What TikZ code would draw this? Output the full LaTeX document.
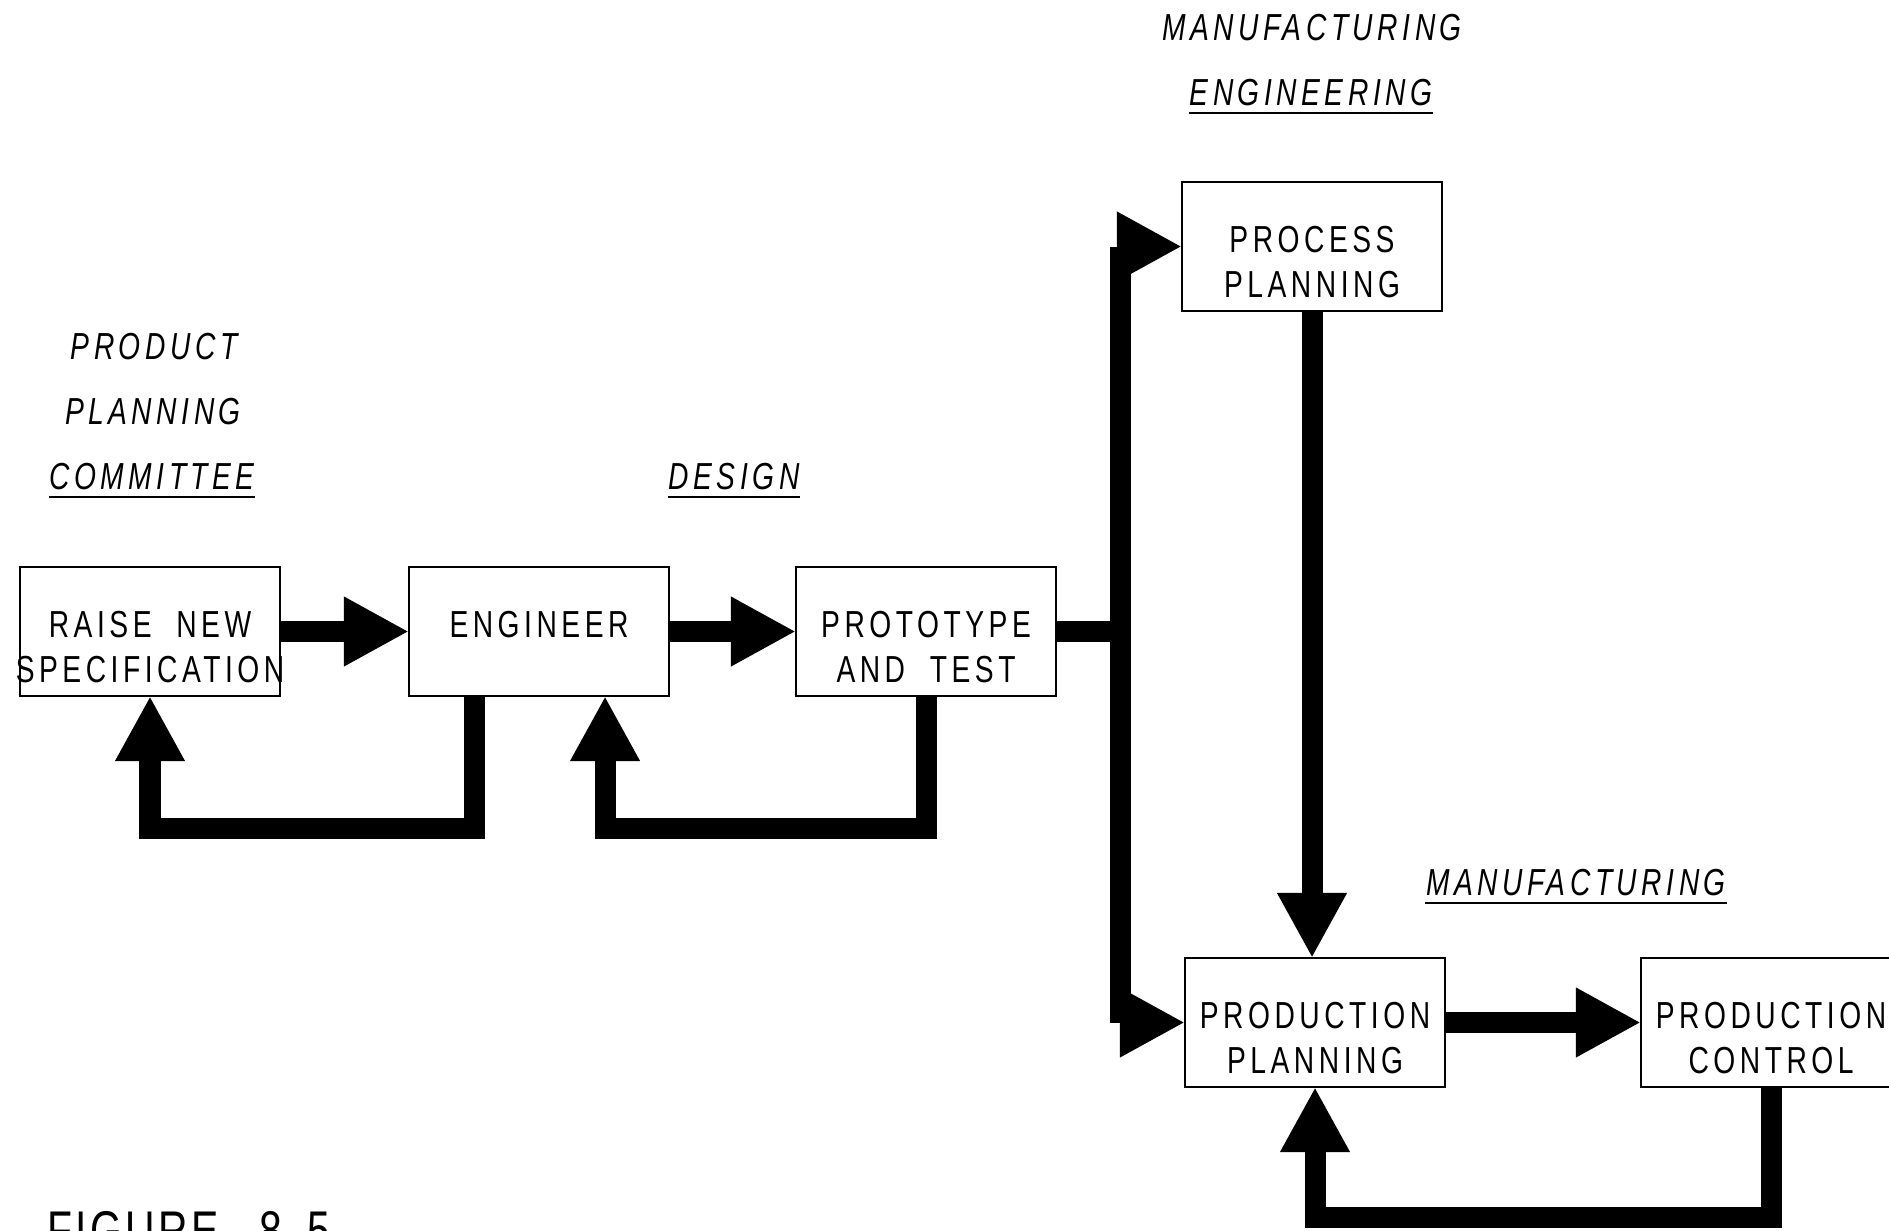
\documentclass[tikz,border=0pt]{standalone}
\usepackage{fontspec}
% narrow, widely spaced lettering in the style of a drafting template
\setmainfont{Liberation Sans}[FakeStretch=0.75, LetterSpace=12, WordSpace=2]
\newfontfamily\captionlettering{Liberation Sans}[FakeStretch=0.75, LetterSpace=6, WordSpace=2.8]
\usetikzlibrary{arrows.meta,calc}

\tikzset{
  stage/.style={draw, line width=0.45pt, minimum width=2.6cm, minimum height=1.29cm,
                inner sep=0pt, outer sep=0pt},
  boxtext/.style={inner sep=0pt, anchor=base, font=\fontsize{10.7}{12}\selectfont},
  dept/.style={inner sep=0pt, anchor=base, font=\fontsize{10.7}{12}\selectfont\itshape},
  uline/.style={line width=0.8pt},
  wire/.style={line width=2.1mm, line join=miter},
  flow/.style={wire, -{Triangle[length=6.5mm, width=6.5mm]}},
}

\begin{document}
\begin{tikzpicture}[x=0.01cm, y=-0.01cm]
\fill[white] (0,0) rectangle (1889,1230);
\useasboundingbox (0,0) rectangle (1889,1230);

% stages
\node[stage] (raise) at (150,631.5) {};
\node[stage] (eng)   at (539,631.5) {};
\node[stage] (proto) at (926,631.5) {};
\node[stage] (proc)  at (1312,246.5) {};
\node[stage] (pplan) at (1315,1022.5) {};
\node[stage] (pctrl) at (1771,1022.5) {};

% stage captions (first and second baselines)
\node[boxtext] (raise-a) at ($(raise.north)+(0,71)$)  {RAISE NEW};
\node[boxtext] (raise-b) at ($(raise.north)+(0,116)$) {SPECIFICATION};
\node[boxtext] (eng-a)   at ($(eng.north)+(0,71)$)    {ENGINEER};
\node[boxtext] (proto-a) at ($(proto.north)+(0,71)$)  {PROTOTYPE};
\node[boxtext] (proto-b) at ($(proto.north)+(0,116)$) {AND TEST};
\node[boxtext] (proc-a)  at ($(proc.north)+(0,71)$)   {PROCESS};
\node[boxtext] (proc-b)  at ($(proc.north)+(0,116)$)  {PLANNING};
\node[boxtext] (pplan-a) at ($(pplan.north)+(0,71)$)  {PRODUCTION};
\node[boxtext] (pplan-b) at ($(pplan.north)+(0,116)$) {PLANNING};
\node[boxtext] (pctrl-a) at ($(pctrl.north)+(0,71)$)  {PRODUCTION};
\node[boxtext] (pctrl-b) at ($(pctrl.north)+(0,116)$) {CONTROL};

% department headings
\node[dept] (ppc-a) at (154,359)  {PRODUCT};
\node[dept] (ppc-b) at (153,424)  {PLANNING};
\node[dept] (ppc-c) at (152,489)  {COMMITTEE};
\node[dept] (des)   at (734,489)  {DESIGN};
\node[dept] (me-a)  at (1312,41)  {MANUFACTURING};
\node[dept] (me-b)  at (1311,105) {ENGINEERING};
\node[dept] (mfg)   at (1576,895) {MANUFACTURING};
\foreach \n in {ppc-c,des,me-b,mfg}
  \draw[uline] ([yshift=-0.08cm]\n.base west) -- ([yshift=-0.08cm]\n.base east);

% forward flow
\draw[flow] (raise) -- (eng);
\draw[flow] (eng) -- (proto);
\coordinate (jx) at (1120,631.5);
\coordinate (jt) at (proc.west -| jx);
\coordinate (jb) at (pplan.west -| jx);
\draw[wire] (proto.east) -- (jx);
\draw[wire] (jt) -- (jb);
\draw[flow] (jt) -- (proc.west);
\draw[flow] (jb) -- (pplan.west);
\draw[flow] (proc.south) -- (proc.south |- pplan.north);
\draw[flow] (pplan) -- (pctrl);

% feedback loops
\draw[flow] ([xshift=-0.64cm]eng.south) -- ++(0,132) -| (raise.south);
\draw[flow] (proto.south) -- ++(0,132) -| ([xshift=0.66cm]eng.south);
\draw[flow] (pctrl.south) -- ++(0,130) -| (pplan.south);

% caption
\node[anchor=base west, inner sep=0pt, font=\captionlettering\fontsize{15.5}{18}\selectfont] (fig)
  at (47,1249) {FIGURE 8.\kern3pt5};
\end{tikzpicture}
\end{document}
